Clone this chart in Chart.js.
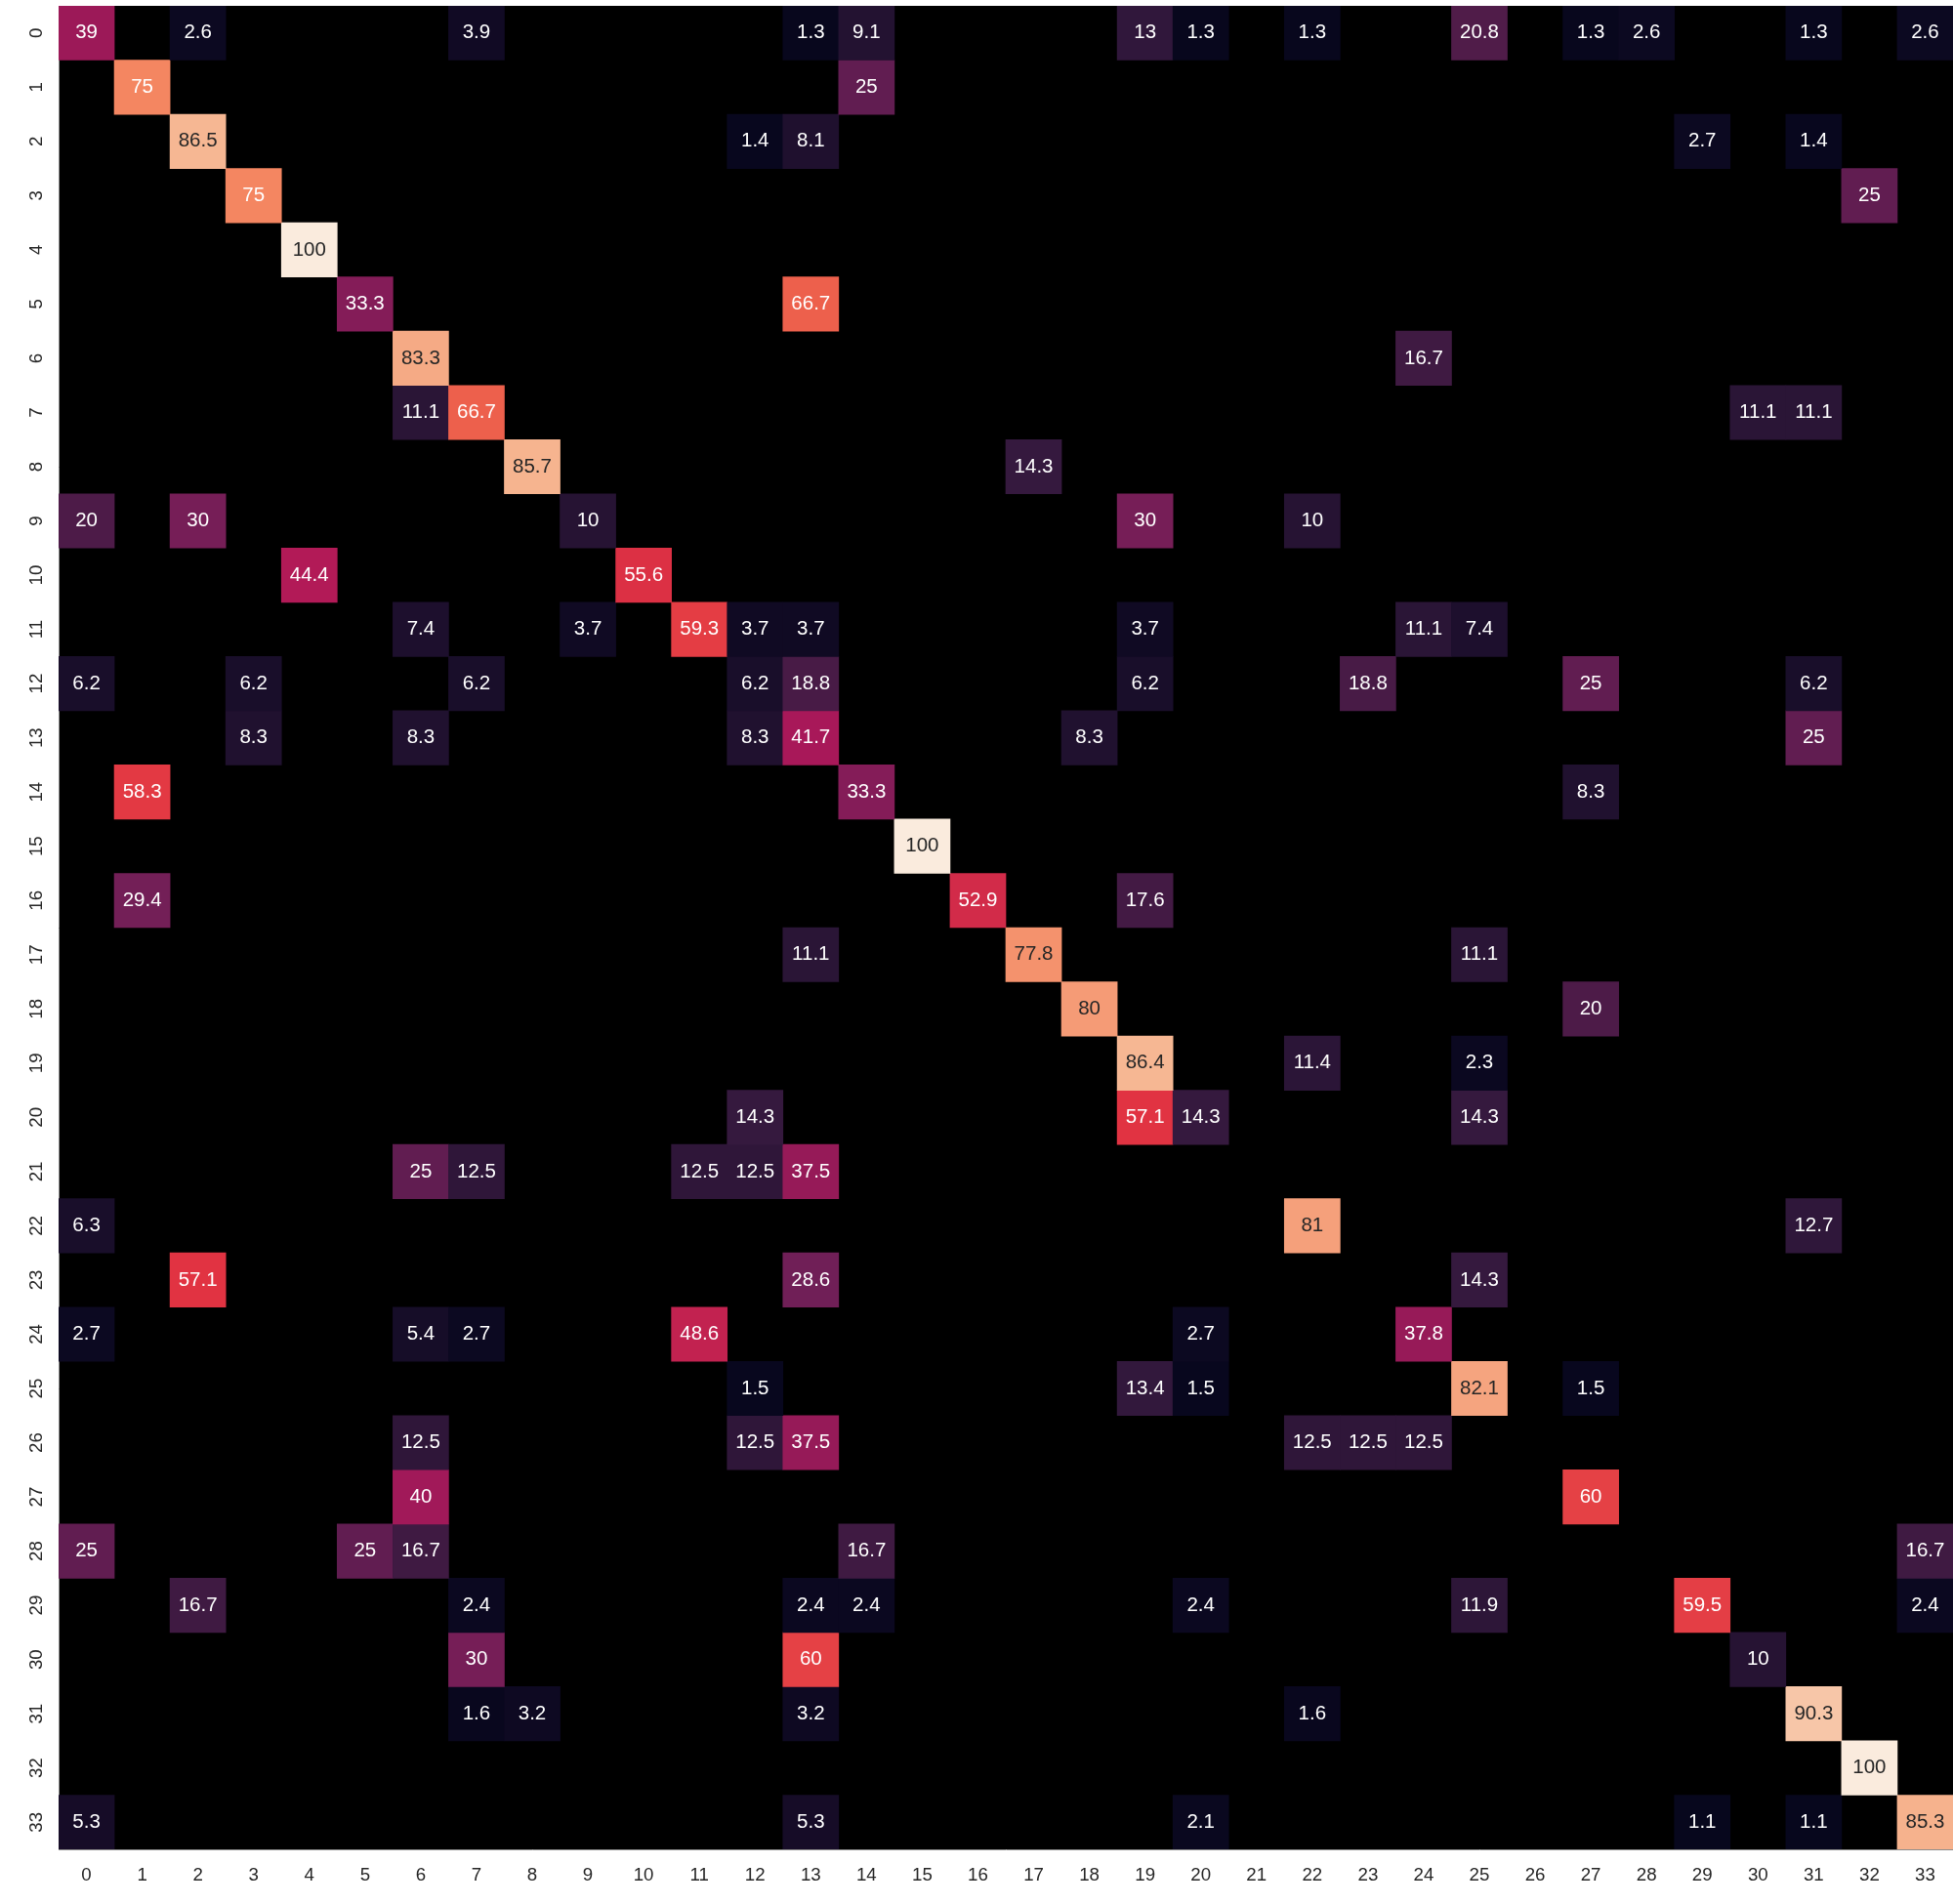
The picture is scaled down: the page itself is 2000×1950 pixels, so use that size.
<!DOCTYPE html>
<html>
<head>
<meta charset="utf-8">
<title>Confusion matrix</title>
<script src="https://cdn.jsdelivr.net/npm/chart.js@4.4.1/dist/chart.umd.min.js"></script>
<style>
  html, body { margin: 0; padding: 0; background: #fff; }
  #wrap { width: 2000px; height: 1950px; }
</style>
</head>
<body>
<div id="wrap"><canvas id="heatmap"></canvas></div>
<script>
// tick labels (same for rows and columns)
const colLabels = ['0','1','2','3','4','5','6','7','8','9','10','11','12','13','14','15','16',
  '17','18','19','20','21','22','23','24','25','26','27','28','29','30','31','32','33'];
const rowLabels = colLabels.slice();

// non-zero cells of each row, as [column, percent]
const rowEntries = [
  [[0,39],[2,2.6],[7,3.9],[13,1.3],[14,9.1],[19,13],[20,1.3],[22,1.3],[25,20.8],[27,1.3],[28,2.6],[31,1.3],[33,2.6]],
  [[1,75],[14,25]],
  [[2,86.5],[12,1.4],[13,8.1],[29,2.7],[31,1.4]],
  [[3,75],[32,25]],
  [[4,100]],
  [[5,33.3],[13,66.7]],
  [[6,83.3],[24,16.7]],
  [[6,11.1],[7,66.7],[30,11.1],[31,11.1]],
  [[8,85.7],[17,14.3]],
  [[0,20],[2,30],[9,10],[19,30],[22,10]],
  [[4,44.4],[10,55.6]],
  [[6,7.4],[9,3.7],[11,59.3],[12,3.7],[13,3.7],[19,3.7],[24,11.1],[25,7.4]],
  [[0,6.2],[3,6.2],[7,6.2],[12,6.2],[13,18.8],[19,6.2],[23,18.8],[27,25],[31,6.2]],
  [[3,8.3],[6,8.3],[12,8.3],[13,41.7],[18,8.3],[31,25]],
  [[1,58.3],[14,33.3],[27,8.3]],
  [[15,100]],
  [[1,29.4],[16,52.9],[19,17.6]],
  [[13,11.1],[17,77.8],[25,11.1]],
  [[18,80],[27,20]],
  [[19,86.4],[22,11.4],[25,2.3]],
  [[12,14.3],[19,57.1],[20,14.3],[25,14.3]],
  [[6,25],[7,12.5],[11,12.5],[12,12.5],[13,37.5]],
  [[0,6.3],[22,81],[31,12.7]],
  [[2,57.1],[13,28.6],[25,14.3]],
  [[0,2.7],[6,5.4],[7,2.7],[11,48.6],[20,2.7],[24,37.8]],
  [[12,1.5],[19,13.4],[20,1.5],[25,82.1],[27,1.5]],
  [[6,12.5],[12,12.5],[13,37.5],[22,12.5],[23,12.5],[24,12.5]],
  [[6,40],[27,60]],
  [[0,25],[5,25],[6,16.7],[14,16.7],[33,16.7]],
  [[2,16.7],[7,2.4],[13,2.4],[14,2.4],[20,2.4],[25,11.9],[29,59.5],[33,2.4]],
  [[7,30],[13,60],[30,10]],
  [[7,1.6],[8,3.2],[13,3.2],[22,1.6],[31,90.3]],
  [[32,100]],
  [[0,5.3],[13,5.3],[20,2.1],[29,1.1],[31,1.1],[33,85.3]]
];

const vmin = 0, vmax = 100;

// seaborn "rocket" colormap, sampled
const rocket = [
  [0.000, [3, 5, 26]],
  [0.143, [53, 25, 62]],
  [0.286, [112, 31, 87]],
  [0.429, [173, 23, 89]],
  [0.571, [225, 51, 66]],
  [0.714, [243, 118, 81]],
  [0.857, [246, 180, 143]],
  [1.000, [250, 235, 221]]
];

function rocketRGB(v) {
  const t = Math.max(0, Math.min(1, (v - vmin) / (vmax - vmin)));
  for (let i = 1; i < rocket.length; i++) {
    if (t <= rocket[i][0]) {
      const [t0, c0] = rocket[i - 1];
      const [t1, c1] = rocket[i];
      const f = (t - t0) / (t1 - t0);
      return c0.map((c, k) => Math.round(c + (c1[k] - c) * f));
    }
  }
  return rocket[rocket.length - 1][1];
}

function luminance(rgb) {
  const lin = c => {
    c /= 255;
    return c <= 0.03928 ? c / 12.92 : Math.pow((c + 0.055) / 1.055, 2.4);
  };
  return 0.2126 * lin(rgb[0]) + 0.7152 * lin(rgb[1]) + 0.0722 * lin(rgb[2]);
}

const matrix = rowEntries.map(entries => {
  const row = new Array(colLabels.length).fill(0);
  entries.forEach(([c, v]) => { row[c] = v; });
  return row;
});

// one floating-bar dataset per row, each bar spans one row band
const datasets = matrix.map((row, r) => ({
  label: rowLabels[r],
  data: row.map(v => v > 0 ? [r - 0.5, r + 0.5] : null),
  backgroundColor: row.map(v => {
    const [R, G, B] = rocketRGB(v);
    return `rgb(${R},${G},${B})`;
  }),
  borderWidth: 0,
  borderSkipped: false,
  grouped: false,
  barPercentage: 1,
  categoryPercentage: 1
}));

const blackArea = {
  id: 'blackArea',
  beforeDraw(chart) {
    const {ctx, chartArea: a} = chart;
    ctx.save();
    ctx.fillStyle = '#000';
    ctx.fillRect(a.left, a.top, a.right - a.left, a.bottom - a.top);
    ctx.restore();
  }
};

const cellText = {
  id: 'cellText',
  afterDatasetsDraw(chart) {
    const ctx = chart.ctx;
    ctx.save();
    ctx.font = '20.5px "Liberation Sans", Arial, sans-serif';
    ctx.textAlign = 'center';
    ctx.textBaseline = 'middle';
    matrix.forEach((row, r) => {
      const bars = chart.getDatasetMeta(r).data;
      row.forEach((v, c) => {
        if (!v) return;
        const bar = bars[c];
        ctx.fillStyle = luminance(rocketRGB(v)) > 0.408 ? '#262626' : '#ffffff';
        ctx.fillText(String(Number(v.toFixed(1))), bar.x, (bar.y + bar.base) / 2);
      });
    });
    ctx.restore();
  }
};

const tickFont = { family: '"Liberation Sans", Arial, sans-serif', size: 18.7 };

new Chart(document.getElementById('heatmap'), {
  type: 'bar',
  data: { labels: colLabels, datasets: datasets },
  plugins: [blackArea, cellText],
  options: {
    responsive: true,
    maintainAspectRatio: false,
    animation: false,
    layout: { padding: { top: 6, right: 0, bottom: 0, left: 0 } },
    plugins: {
      legend: { display: false },
      tooltip: { enabled: false }
    },
    scales: {
      x: {
        type: 'category',
        grid: { display: false, drawTicks: false },
        border: { display: true, color: '#8c8c8c', width: 1 },
        ticks: {
          color: '#262626',
          font: tickFont,
          padding: 16,
          maxRotation: 0,
          autoSkip: false
        },
        afterFit(scale) {
          scale.height = 56;
          scale.paddingLeft = 0;
          scale.paddingRight = 0;
        }
      },
      y: {
        type: 'linear',
        reverse: true,
        min: -0.5,
        max: 33.5,
        grid: { display: false, drawTicks: false },
        border: { display: true, color: '#8c8c8c', width: 1 },
        afterBuildTicks(scale) {
          scale.ticks = rowLabels.map((_, i) => ({ value: i }));
        },
        ticks: {
          autoSkip: false,
          minRotation: 90,
          maxRotation: 90,
          crossAlign: 'center',
          padding: 12,
          color: '#262626',
          font: tickFont,
          callback: v => rowLabels[v]
        },
        afterFit(scale) {
          scale.width = 60;
          scale.paddingTop = 0;
          scale.paddingBottom = 0;
        }
      }
    }
  }
});
</script>
</body>
</html>
